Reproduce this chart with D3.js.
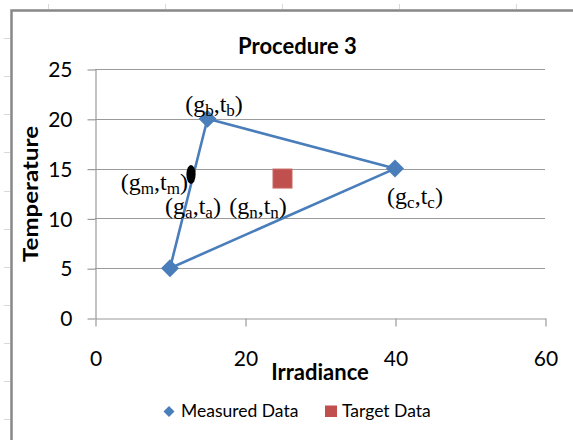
<!DOCTYPE html>
<html>
<head>
<meta charset="utf-8">
<script src="https://cdn.jsdelivr.net/npm/d3@7"></script>
<style>
  body { margin: 0; background: #fff; }
  svg { display: block; }
</style>
</head>
<body>
<svg id="chart" width="573" height="440"></svg>
<script>
// ---- chart data ----
const chartTitle = "Procedure 3";
const xTitle = "Irradiance";
const yTitle = "Temperature";
const xTickValues = [0, 20, 40, 60];
const yTickValues = [0, 5, 10, 15, 20, 25];

// Measured Data: closed triangle a -> b -> c -> a
const measuredX = [10, 15, 40, 10];
const measuredY = [5, 20, 15, 5];

// Target Data
const targetX = [25];
const targetY = [14];

// point m lying on segment a-b
const pointMX = [12.8];
const pointMY = [14.4];

const legendNames = ["Measured Data", "Target Data"];

// point labels "(g_k,t_k)" and the data point each one belongs to
const labelKeys = ["b", "c", "m", "a", "n"];
const labelAtX = [15, 40, 12.8, 12.8, 25];
const labelAtY = [20, 15, 14.4, 14.4, 14];

// ---- drawing ----
const blue = "#4a7ebb";
const red = "#c0504d";
const gridColor = "#9a9a9a";
const uiFont = "Lato, 'Open Sans', sans-serif";
const svg = d3.select("#chart");

// sheet cell marks behind the chart frame
const sheet = svg.append("g").attr("stroke", "#d9d9d9").attr("stroke-width", 1);
sheet.selectAll("line.row").data(d3.range(1, 12)).join("line")
  .attr("x1", 4).attr("x2", 10)
  .attr("y1", k => Math.round(k * 38.1) + 0.5).attr("y2", k => Math.round(k * 38.1) + 0.5);
sheet.selectAll("line.col").data(d3.range(0, 5)).join("line")
  .attr("x1", k => Math.round(48 + k * 117) + 0.5).attr("x2", k => Math.round(48 + k * 117) + 0.5)
  .attr("y1", 4).attr("y2", 9);

// chart frame
svg.append("path")
  .attr("d", "M11.5,440 V10.5 H573")
  .attr("fill", "none").attr("stroke", "#888").attr("stroke-width", 2.5);

const x = d3.scaleLinear().domain([0, 60]).range([95, 545]);
const y = d3.scaleLinear().domain([0, 25]).range([318, 69]);

// horizontal gridlines
svg.append("g").selectAll("line").data(yTickValues.filter(v => v > 0)).join("line")
  .attr("x1", x(0)).attr("x2", x(60))
  .attr("y1", d => Math.round(y(d)) + 0.5).attr("y2", d => Math.round(y(d)) + 0.5)
  .attr("stroke", gridColor).attr("stroke-width", 1.2);

// axes
const yAxis = svg.append("g")
  .attr("transform", `translate(${x(0) + 0.5},0.5)`)
  .call(d3.axisLeft(y).tickValues(yTickValues).tickSize(8).tickSizeOuter(0).tickPadding(15));
const xAxis = svg.append("g")
  .attr("transform", `translate(0.5,${Math.round(y(0)) + 0.5})`)
  .call(d3.axisBottom(x).tickValues(xTickValues).tickSize(8).tickSizeOuter(0));

[yAxis, xAxis].forEach(g => {
  g.select(".domain").attr("stroke", gridColor).attr("stroke-width", 1.2);
  g.selectAll(".tick line").attr("stroke", gridColor).attr("stroke-width", 1.2);
  g.selectAll(".tick text")
    .attr("fill", "#000").style("font-family", uiFont).style("font-size", "21px");
});
yAxis.selectAll(".tick text").attr("dy", "0.34em");
xAxis.selectAll(".tick text").attr("y", 47).attr("dy", 0);

// titles
svg.append("text").text(chartTitle)
  .attr("x", 297.5).attr("y", 54).attr("text-anchor", "middle")
  .style("font-family", uiFont).style("font-weight", "bold").style("font-size", "22px");
svg.append("text").text(xTitle)
  .attr("x", 320).attr("y", 380).attr("text-anchor", "middle")
  .style("font-family", uiFont).style("font-weight", "bold").style("font-size", "22px");
svg.append("text").text(yTitle)
  .attr("transform", "translate(38,194) rotate(-90)").attr("text-anchor", "middle")
  .attr("textLength", 136).attr("lengthAdjust", "spacingAndGlyphs")
  .style("font-family", uiFont).style("font-weight", "bold").style("font-size", "21px");

// Measured Data line + diamond markers
const measured = measuredX.map((v, i) => [v, measuredY[i]]);
svg.append("path")
  .datum(measured)
  .attr("d", d3.line().x(d => x(d[0])).y(d => y(d[1])))
  .attr("fill", "none").attr("stroke", blue).attr("stroke-width", 2.6)
  .attr("stroke-linejoin", "round");
const diamond = r => `M0,${-r} L${r},0 L0,${r} L${-r},0 Z`;
svg.append("g").selectAll("path").data(measured.slice(0, 3)).join("path")
  .attr("transform", d => `translate(${x(d[0])},${y(d[1])})`)
  .attr("d", diamond(9)).attr("fill", blue);

// Target Data square markers
svg.append("g").selectAll("rect").data(targetX.map((v, i) => [v, targetY[i]])).join("rect")
  .attr("x", d => x(d[0]) - 9.5).attr("y", d => y(d[1]) - 9.5)
  .attr("width", 19).attr("height", 19)
  .attr("fill", red).attr("stroke", "#c86764").attr("stroke-width", 1);

// point m
svg.append("g").selectAll("ellipse").data(pointMX.map((v, i) => [v, pointMY[i]])).join("ellipse")
  .attr("cx", d => x(d[0])).attr("cy", d => y(d[1]))
  .attr("rx", 4.6).attr("ry", 9.5).attr("fill", "#000");

// point labels
const labelPlacement = {
  b: { anchor: "middle", dx: 6.5, dy: -7 },
  c: { anchor: "middle", dx: 20, dy: 35 },
  m: { anchor: "end", dx: -3, dy: 15.5 },
  a: { anchor: "middle", dx: 2, dy: 39 },
  n: { anchor: "middle", dx: -24.5, dy: 35 }
};
const labels = svg.append("g")
  .style("font-family", "'Liberation Serif', 'Times New Roman', serif")
  .style("font-size", "24px").attr("fill", "#000");
labelKeys.forEach((k, i) => {
  const p = labelPlacement[k];
  const t = labels.append("text")
    .attr("x", x(labelAtX[i]) + p.dx).attr("y", y(labelAtY[i]) + p.dy)
    .attr("text-anchor", p.anchor);
  t.append("tspan").text("(g");
  t.append("tspan").text(k).attr("dy", 4).style("font-size", "17px");
  t.append("tspan").text(",t").attr("dy", -4);
  t.append("tspan").text(k).attr("dy", 4).style("font-size", "17px");
  t.append("tspan").text(")").attr("dy", -4);
});

// legend
const legend = svg.append("g").style("font-family", uiFont).style("font-size", "17.5px");
legend.append("path").attr("transform", "translate(169,411.5)").attr("d", diamond(5.5)).attr("fill", blue);
legend.append("text").text(legendNames[0]).attr("x", 181).attr("y", 417);
legend.append("rect").attr("x", 325).attr("y", 405.5).attr("width", 12).attr("height", 11.5).attr("fill", red);
legend.append("text").text(legendNames[1]).attr("x", 342).attr("y", 417);
</script>
</body>
</html>
